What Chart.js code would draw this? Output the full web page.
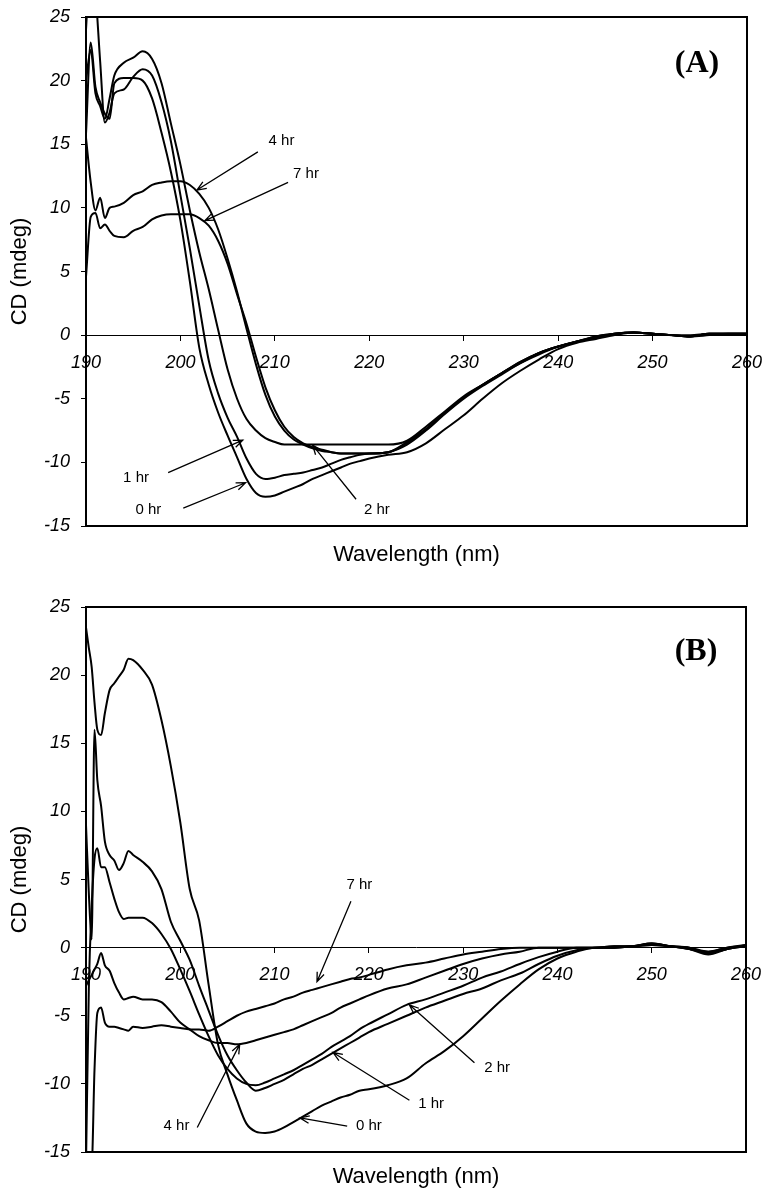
<!DOCTYPE html>
<html>
<head>
<meta charset="utf-8">
<script src="https://cdn.jsdelivr.net/npm/chart.js@4.4.1/dist/chart.umd.min.js"></script>
<style>
  html, body { margin: 0; padding: 0; background: #fff; }
  canvas { position: absolute; left: 0; }
  #chartA { top: 0; }
  #chartB { top: 590px; }
</style>
</head>
<body>
<canvas id="chartA" width="770" height="590"></canvas>
<canvas id="chartB" width="770" height="609"></canvas>
<script>
// axis ticks
const xTicks = [190, 200, 210, 220, 230, 240, 250, 260];
const yTicks = [-15, -10, -5, 0, 5, 10, 15, 20, 25];

// ---- panel (A) ----
const wavelengthA = [
  190,190.5,191,191.5,192,192.5,193,
  194,195,196,197,198,199,200,201,202,203,
  204,205,206,207,208,209,210,211,212,213,
  214,215,216,217,218,219,220,
  222,224,226,228,230,232,234,236,238,240,
  242,244,246,248,250,252,254,256,258,260
];
const hr0A = [
  15.8,23.0,19.5,18.3,17.4,17.0,19.8,
  20.2,20.2,20.0,18.6,15.9,12.8,9.0,4.2,-1.0,-3.9,
  -6.1,-7.9,-9.6,-11.3,-12.4,-12.7,-12.6,-12.3,-12.0,-11.7,
  -11.3,-11.0,-10.7,-10.4,-10.1,-9.9,-9.7,
  -9.4,-9.2,-8.5,-7.4,-6.3,-5.0,-3.8,-2.8,-1.9,-1.1,
  -0.6,-0.3,0.0,0.2,0.1,0.0,-0.1,0.1,0.1,0.1
];
const hr1A = [
  24.0,30.0,27.0,21.5,16.7,17.5,19.0,
  19.3,20.3,20.9,20.4,18.3,15.2,11.0,6.8,2.3,-2.0,
  -4.6,-6.5,-8.0,-9.7,-10.9,-11.3,-11.2,-11.0,-10.9,-10.8,
  -10.6,-10.4,-10.1,-9.8,-9.6,-9.4,-9.3,
  -9.2,-8.4,-7.4,-6.1,-4.9,-3.9,-3.0,-2.1,-1.4,-0.9,
  -0.5,-0.1,0.1,0.2,0.1,0.0,-0.1,0.1,0.1,0.1
];
const hr2A = [
  20.0,22.4,19.0,18.0,17.0,18.6,20.4,
  21.4,21.8,22.3,21.7,19.8,16.6,13.4,9.8,6.5,3.6,
  0.4,-2.7,-5.0,-6.6,-7.5,-8.1,-8.4,-8.6,-8.6,-8.6,
  -8.6,-8.6,-8.6,-8.6,-8.6,-8.6,-8.6,
  -8.6,-8.3,-7.2,-6.0,-4.8,-3.9,-3.0,-2.1,-1.4,-0.9,
  -0.5,-0.2,0.1,0.2,0.1,0.0,-0.1,0.0,0.1,0.1
];
const hr4A = [
  15.5,12.0,9.8,10.8,9.2,10.0,10.1,
  10.4,11.0,11.3,11.8,12.0,12.1,12.1,11.8,11.1,10.0,
  8.3,6.0,3.4,0.5,-2.3,-4.7,-6.4,-7.5,-8.2,-8.6,
  -8.9,-9.1,-9.2,-9.3,-9.3,-9.3,-9.3,
  -9.2,-8.5,-7.4,-6.1,-4.9,-3.9,-3.0,-2.2,-1.4,-0.9,
  -0.5,-0.1,0.1,0.2,0.1,0.0,-0.1,0.1,0.1,0.1
];
const hr7A = [
  4.6,9.3,9.6,8.4,8.7,8.2,7.8,
  7.7,8.2,8.5,9.1,9.4,9.5,9.5,9.5,9.2,8.6,
  7.4,5.6,3.2,0.9,-1.7,-4.1,-5.9,-7.2,-8.0,-8.5,
  -8.8,-9.0,-9.2,-9.3,-9.3,-9.3,-9.3,
  -9.2,-8.6,-7.5,-6.2,-5.0,-4.0,-3.1,-2.2,-1.5,-0.9,
  -0.5,-0.2,0.1,0.2,0.1,0.0,0.0,0.1,0.1,0.1
];
const notesA = [
  { text: "4 hr", at: [210.7, 15.3], from: [208.2, 14.4], to: [201.75, 11.4] },
  { text: "7 hr", at: [213.3, 12.7], from: [211.4, 12.0], to: [202.6, 9.0] },
  { text: "1 hr", at: [195.3, -11.2], from: [198.7, -10.8], to: [206.6, -8.25] },
  { text: "0 hr", at: [196.6, -13.7], from: [200.3, -13.6], to: [206.9, -11.6] },
  { text: "2 hr", at: [220.8, -13.7], from: [218.6, -12.9], to: [214.0, -8.65] }
];

// ---- panel (B) ----
const wavelengthB = [
  190,190.3,190.6,190.9,191.2,191.6,192,192.5,193,193.5,194,194.5,195,
  196,197,198,199,200,201,202,203,204,205,
  206,207,208,209,210,211,212,213,214,215,
  216,217,218,219,220,
  222,224,226,228,230,232,234,236,238,240,
  242,244,246,248,250,252,254,256,258,260
];
const hr0B = [
  23.5,22.0,20.6,18.0,16.0,15.6,17.2,18.9,19.4,19.9,20.4,21.2,21.1,
  20.4,19.3,16.7,13.3,9.2,4.3,2.0,-2.7,-7.1,-9.3,
  -11.2,-12.9,-13.5,-13.6,-13.5,-13.2,-12.8,-12.4,-12.0,-11.6,
  -11.3,-11.0,-10.8,-10.5,-10.4,
  -10.1,-9.6,-8.5,-7.6,-6.5,-5.2,-3.9,-2.7,-1.6,-0.8,
  -0.3,0.0,0.0,0.1,0.2,0.1,-0.1,-0.4,-0.1,0.2
];
const hr1B = [
  9.0,4.0,0.6,16.0,12.3,10.4,7.8,6.8,6.4,5.7,6.2,7.1,6.8,
  6.3,5.6,4.3,1.9,0.5,-0.9,-2.8,-4.6,-6.4,-7.9,
  -9.0,-9.9,-10.5,-10.3,-10.0,-9.7,-9.3,-8.9,-8.6,-8.2,
  -7.8,-7.4,-7.0,-6.6,-6.2,
  -5.6,-5.0,-4.4,-3.9,-3.4,-3.0,-2.4,-1.9,-1.2,-0.6,
  -0.2,0.0,0.0,0.1,0.3,0.1,-0.1,-0.3,0.0,0.2
];
const hr2B = [
  -16.0,-3.0,3.0,6.5,7.3,5.9,5.9,4.8,3.6,2.6,2.1,2.2,2.2,
  2.2,1.8,1.0,-0.1,-1.6,-3.2,-4.9,-6.5,-7.9,-8.9,
  -9.6,-10.0,-10.1,-9.9,-9.6,-9.3,-9.0,-8.6,-8.2,-7.8,
  -7.3,-6.9,-6.5,-6.0,-5.6,
  -4.9,-4.2,-3.8,-3.3,-2.8,-2.2,-1.75,-1.2,-0.7,-0.3,
  0.0,0.0,0.0,0.1,0.3,0.1,-0.1,-0.5,-0.1,0.1
];
const hr4B = [
  -2.8,-2.4,-2.0,-1.6,-1.2,-0.4,-1.3,-1.7,-2.6,-3.3,-3.8,-3.7,-3.6,
  -3.8,-3.8,-4.0,-4.7,-5.5,-6.0,-6.5,-6.8,-7.0,-7.0,
  -7.1,-7.0,-6.8,-6.6,-6.4,-6.2,-6.0,-5.7,-5.4,-5.1,
  -4.8,-4.4,-4.1,-3.8,-3.5,
  -3.0,-2.7,-2.2,-1.7,-1.2,-0.8,-0.5,-0.3,0.0,0.0,
  0.0,0.0,0.1,0.1,0.3,0.1,0.0,-0.4,-0.1,0.1
];
const hr7B = [
  -16.0,-16.0,-16.0,-9.0,-4.8,-4.4,-5.5,-5.8,-5.8,-5.9,-6.0,-6.1,-5.8,
  -5.9,-5.8,-5.7,-5.8,-5.9,-6.0,-6.0,-6.1,-5.8,-5.4,
  -5.0,-4.7,-4.5,-4.3,-4.1,-3.8,-3.6,-3.3,-3.1,-2.9,
  -2.7,-2.5,-2.3,-2.2,-2.0,
  -1.6,-1.3,-1.1,-0.8,-0.5,-0.3,-0.1,0.0,0.0,0.0,
  0.0,0.0,0.1,0.1,0.2,0.1,0.0,-0.3,0.0,0.1
];
const notesB = [
  { text: "7 hr", at: [219.0, 4.6], from: [218.1, 3.4], to: [214.5, -2.5] },
  { text: "4 hr", at: [199.6, -13.1], from: [201.8, -13.2], to: [206.3, -7.1] },
  { text: "0 hr", at: [220.0, -13.1], from: [217.7, -13.1], to: [212.7, -12.5] },
  { text: "1 hr", at: [226.6, -11.45], from: [224.3, -11.2], to: [216.2, -7.7] },
  { text: "2 hr", at: [233.6, -8.8], from: [231.2, -8.45], to: [224.3, -4.2] }
];

const SANS = "'Liberation Sans', Arial, Helvetica, sans-serif";
Chart.defaults.font.family = SANS;
Chart.defaults.color = "#000";

function drawArrow(ctx, x1, y1, x2, y2) {
  const ang = Math.atan2(y2 - y1, x2 - x1);
  const head = 10;
  ctx.beginPath();
  ctx.moveTo(x1, y1);
  ctx.lineTo(x2, y2);
  ctx.moveTo(x2 - head * Math.cos(ang - 0.38), y2 - head * Math.sin(ang - 0.38));
  ctx.lineTo(x2, y2);
  ctx.lineTo(x2 - head * Math.cos(ang + 0.38), y2 - head * Math.sin(ang + 0.38));
  ctx.stroke();
}

// frame round the plot, arrows, "x hr" labels and the panel letter
const decor = {
  id: "decor",
  afterDatasetsDraw(chart, args, opts) {
    const { ctx, chartArea: a, scales: { x, y } } = chart;
    ctx.save();
    ctx.strokeStyle = "#000";
    ctx.fillStyle = "#000";
    ctx.lineWidth = 2;
    ctx.strokeRect(a.left, a.top, a.right - a.left, a.bottom - a.top);

    ctx.lineWidth = 1.3;
    ctx.font = `15px ${SANS}`;
    ctx.textAlign = "center";
    ctx.textBaseline = "middle";
    opts.notes.forEach(n => {
      drawArrow(ctx,
        x.getPixelForValue(n.from[0]), y.getPixelForValue(n.from[1]),
        x.getPixelForValue(n.to[0]), y.getPixelForValue(n.to[1]));
      ctx.fillText(n.text, x.getPixelForValue(n.at[0]), y.getPixelForValue(n.at[1]));
    });

    ctx.font = "bold 32px 'Liberation Serif', 'Times New Roman', serif";
    ctx.fillText(opts.letter, x.getPixelForValue(opts.letterAt[0]), y.getPixelForValue(opts.letterAt[1]));
    ctx.restore();
  }
};

// tick labels may hang over the plot edges, so no extra room is kept for them
const noEdgePadding = s => {
  s.paddingLeft = 0; s.paddingRight = 0;
  s.paddingTop = 0; s.paddingBottom = 0;
};

function makePanel(id, wavelengths, series, notes, letter, letterAt, bottomSpace, titlePad, rightPad) {
  const datasets = series.map(vals => ({
    data: vals.map((v, i) => ({ x: wavelengths[i], y: v })),
    borderColor: "#000",
    borderWidth: 2,
    pointRadius: 0,
    pointHoverRadius: 0,
    fill: false,
    cubicInterpolationMode: "monotone"
  }));

  return new Chart(document.getElementById(id), {
    type: "line",
    data: { datasets },
    plugins: [decor],
    options: {
      responsive: false,
      animation: false,
      layout: { autoPadding: false, padding: { top: 17, right: rightPad, left: 0, bottom: 0 } },
      plugins: {
        legend: { display: false },
        tooltip: { enabled: false },
        decor: { notes, letter, letterAt }
      },
      scales: {
        x: {
          type: "linear",
          min: 190, max: 260,
          position: { y: 0 },
          afterBuildTicks: s => { s.ticks = xTicks.map(v => ({ value: v })); },
          afterFit: s => { s.height = 0; noEdgePadding(s); },
          grid: { display: true, drawOnChartArea: false, drawTicks: true, tickLength: 5, color: "#000" },
          border: { display: true, color: "#000", width: 1 },
          ticks: { padding: 12, maxRotation: 0, font: { size: 18, style: "italic" }, color: "#000" }
        },
        xb: {
          type: "linear",
          min: 190, max: 260,
          position: "bottom",
          afterFit: s => { s.height = bottomSpace; noEdgePadding(s); },
          grid: { display: false },
          border: { display: false },
          ticks: { display: false },
          title: {
            display: true,
            text: "Wavelength (nm)",
            font: { size: 22 },
            padding: { top: 0, bottom: titlePad },
            color: "#000"
          }
        },
        y: {
          type: "linear",
          min: -15, max: 25,
          position: "left",
          afterBuildTicks: s => { s.ticks = yTicks.map(v => ({ value: v })); },
          afterFit: s => { s.width = 86; noEdgePadding(s); },
          grid: { display: true, drawOnChartArea: false, drawTicks: true, tickLength: 5, color: "#000" },
          border: { display: false },
          ticks: { padding: 11, font: { size: 18, style: "italic" }, color: "#000" },
          title: {
            display: true,
            text: "CD (mdeg)",
            font: { size: 22 },
            padding: { top: 7, bottom: 0 },
            color: "#000"
          }
        }
      }
    }
  });
}

makePanel("chartA", wavelengthA, [hr0A, hr1A, hr2A, hr4A, hr7A], notesA,
  "(A)", [254.7, 21.3], 64, 22, 23);
makePanel("chartB", wavelengthB, [hr0B, hr1B, hr2B, hr4B, hr7B], notesB,
  "(B)", [254.7, 21.7], 47, 9, 24);
</script>
</body>
</html>
